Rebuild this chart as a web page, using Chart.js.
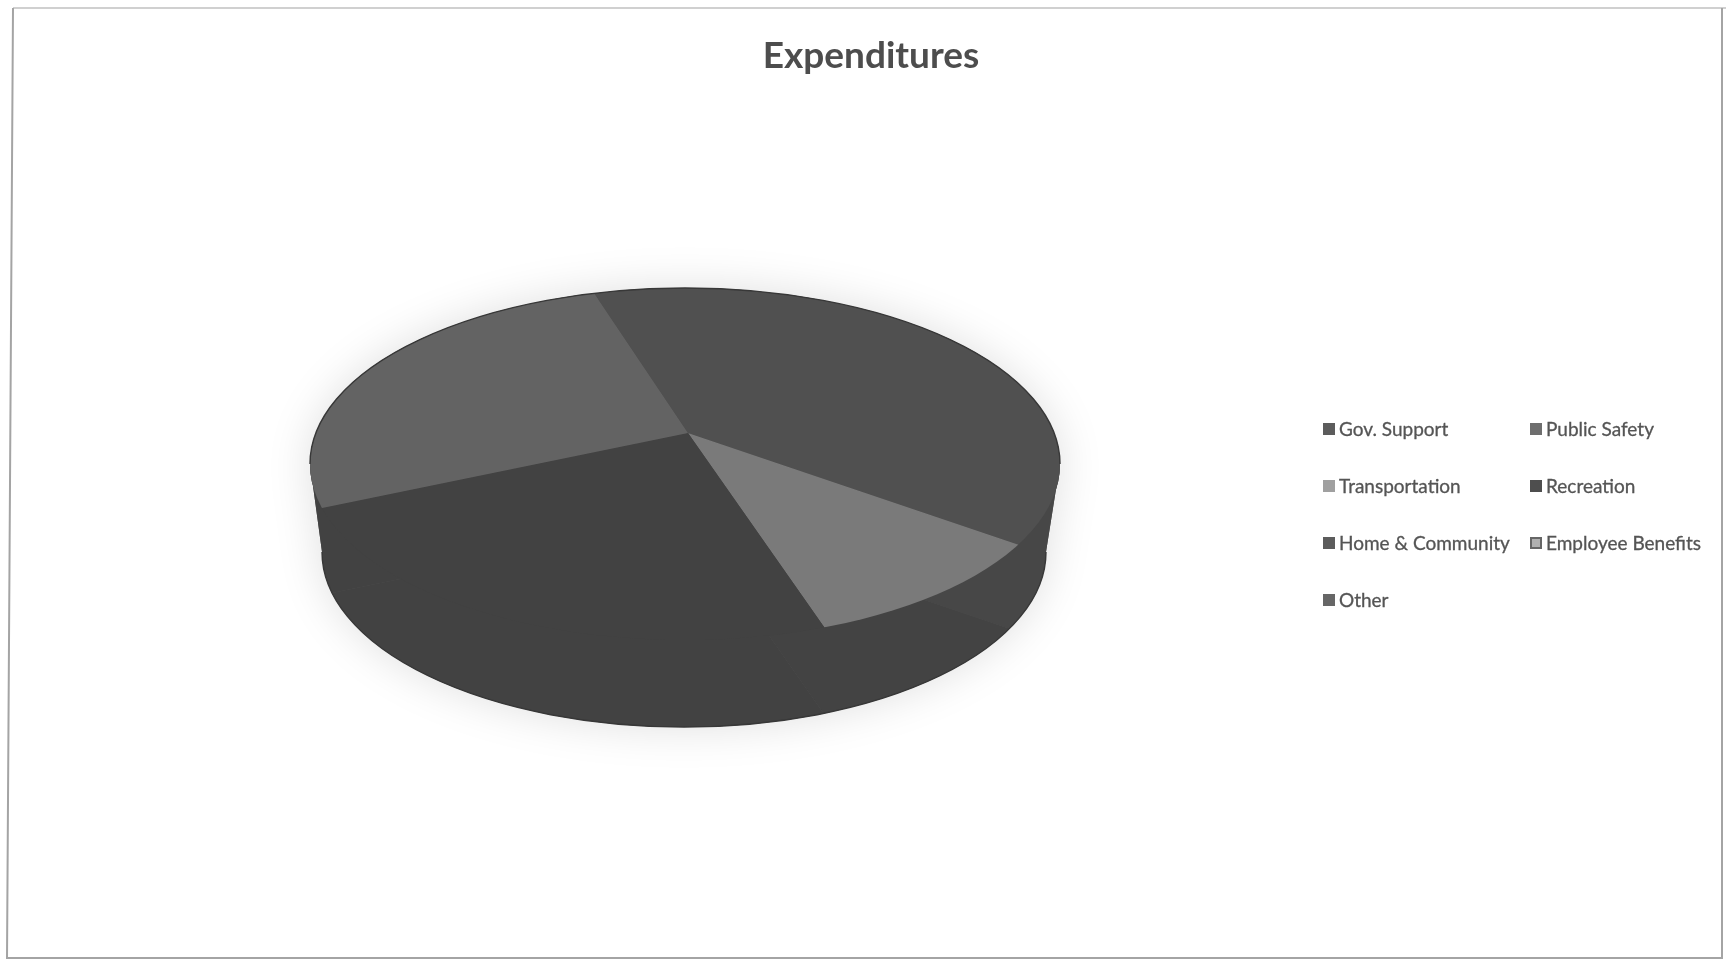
<!DOCTYPE html>
<html>
<head>
<meta charset="utf-8">
<title>Expenditures</title>
<script src="https://cdn.jsdelivr.net/npm/chart.js@4"></script>
<style>
html,body{margin:0;padding:0;background:#fff;width:1726px;height:961px;overflow:hidden}
#page{position:absolute;left:0;top:0;width:1726px;height:961px;filter:blur(0.5px)}
canvas{position:absolute;left:0;top:0}
.lg{position:absolute;font-family:Lato,sans-serif;font-size:19px;line-height:24px;color:#555;white-space:nowrap;-webkit-text-stroke:0.3px #555}
.sw{position:absolute;width:12px;height:12px;box-sizing:border-box}
</style>
</head>
<body>
<div id="page"><canvas id="c" width="1726" height="961"></canvas></div>
<script>
const titleText = 'Expenditures';
const categories = ['Gov. Support','Public Safety','Transportation','Recreation','Home & Community','Employee Benefits','Other'];
const shares = [39.8, 0, 10, 0, 23.5, 0, 26.7];
const sliceColors = ['#505050','#6a6a6a','#7a7a7a','#484848','#424242','#aaaaaa','#636363'];
const sideColors  = ['#474747','#474747','#434343','#434343','#424242','#424242','#424242'];
const swatchColors = ['#5c5c5c','#6e6e6e','#a0a0a0','#4e4e4e','#5c5c5c','#b0b0b0','#666666'];
const legendCols = [1323, 1530];
const legendRows = [429, 486, 543, 600];

const top3d = {cx:685, cy:464, rx:375, ry:176};
const bot3d = {cx:684, cy:552, rx:362, ry:175};
const apex = {x:688, y:433};
const squash = top3d.ry / top3d.rx;
const depth = 87;

function hullPath(ctx){
  ctx.beginPath();
  ctx.ellipse(top3d.cx, top3d.cy, top3d.rx, top3d.ry, 0, 0, Math.PI*2);
  ctx.closePath();
  ctx.moveTo(top3d.cx-top3d.rx, top3d.cy);
  ctx.lineTo(top3d.cx+top3d.rx, top3d.cy);
  ctx.lineTo(bot3d.cx+bot3d.rx, bot3d.cy);
  ctx.lineTo(bot3d.cx-bot3d.rx, bot3d.cy);
  ctx.closePath();
  ctx.moveTo(bot3d.cx+bot3d.rx, bot3d.cy);
  ctx.ellipse(bot3d.cx, bot3d.cy, bot3d.rx, bot3d.ry, 0, 0, Math.PI*2);
  ctx.closePath();
}
function drawArcs(ctx, meta, dy, colors){
  const e0 = meta.data[0];
  ctx.save();
  ctx.translate(apex.x, apex.y + dy);
  ctx.scale(1, squash);
  ctx.translate(-e0.x, -e0.y);
  meta.data.forEach((el, i) => {
    const o = el.options;
    el.options = Object.assign({}, o, {backgroundColor: colors[i], borderWidth: 0});
    el.draw(ctx);
    el.options = o;
  });
  ctx.restore();
}
const pie3d = {
  id:'pie3d',
  beforeDatasetDraw(chart, args){
    const ctx = chart.ctx, meta = args.meta;
    // scanned page frame
    ctx.save();
    ctx.lineWidth = 2;
    ctx.strokeStyle = '#d0d0d0';
    ctx.beginPath(); ctx.moveTo(1726, 8); ctx.lineTo(13, 8); ctx.stroke();
    ctx.strokeStyle = '#a4a4a4';
    ctx.beginPath();
    ctx.moveTo(13, 8); ctx.lineTo(7, 958); ctx.lineTo(1722, 958); ctx.lineTo(1722, 8);
    ctx.stroke();
    ctx.restore();
    // soft shadow
    ctx.save();
    ctx.shadowColor = 'rgba(0,0,0,0.13)';
    ctx.shadowBlur = 45;
    ctx.fillStyle = '#555';
    hullPath(ctx); ctx.fill('nonzero');
    ctx.restore();
    // side wall
    ctx.save();
    hullPath(ctx); ctx.clip('nonzero');
    drawArcs(ctx, meta, depth, sideColors);
    ctx.restore();
    // top face
    ctx.save();
    ctx.beginPath();
    ctx.ellipse(top3d.cx, top3d.cy, top3d.rx, top3d.ry, 0, 0, Math.PI*2);
    ctx.clip();
    drawArcs(ctx, meta, 0, sliceColors);
    ctx.restore();
    // rim lines on the back edge and the base
    ctx.save();
    ctx.strokeStyle = '#383838';
    ctx.lineWidth = 1.4;
    ctx.beginPath();
    ctx.ellipse(top3d.cx, top3d.cy, top3d.rx, top3d.ry, 0, Math.PI, Math.PI*2);
    ctx.stroke();
    ctx.beginPath();
    ctx.ellipse(bot3d.cx, bot3d.cy, bot3d.rx, bot3d.ry, 0, 0, Math.PI);
    ctx.stroke();
    ctx.restore();
    return false;
  }
};

new Chart(document.getElementById('c'), {
  type:'pie',
  data:{labels:categories, datasets:[{data:shares, backgroundColor:sliceColors, borderWidth:0, radius:480}]},
  options:{
    responsive:false,
    animation:false,
    rotation:-17.5,
    layout:{padding:{left:16, top:34}},
    plugins:{
      legend:{display:false},
      tooltip:{enabled:false},
      title:{display:true, text:titleText, color:'#4d4d4d', padding:0,
             font:{family:'Lato, sans-serif', size:37, weight:'bold'}}
    }
  },
  plugins:[pie3d]
});

const page = document.getElementById('page');
categories.forEach((name, i) => {
  const x = legendCols[i % 2], y = legendRows[Math.floor(i / 2)];
  const sw = document.createElement('div');
  sw.className = 'sw';
  sw.style.left = x + 'px';
  sw.style.top = (y - 6) + 'px';
  sw.style.background = swatchColors[i];
  if (name === 'Employee Benefits') sw.style.border = '2px solid #666';
  page.appendChild(sw);
  const t = document.createElement('div');
  t.className = 'lg';
  t.textContent = name;
  t.style.left = (x + 16) + 'px';
  t.style.top = (y - 12) + 'px';
  page.appendChild(t);
});
</script>
</body>
</html>
